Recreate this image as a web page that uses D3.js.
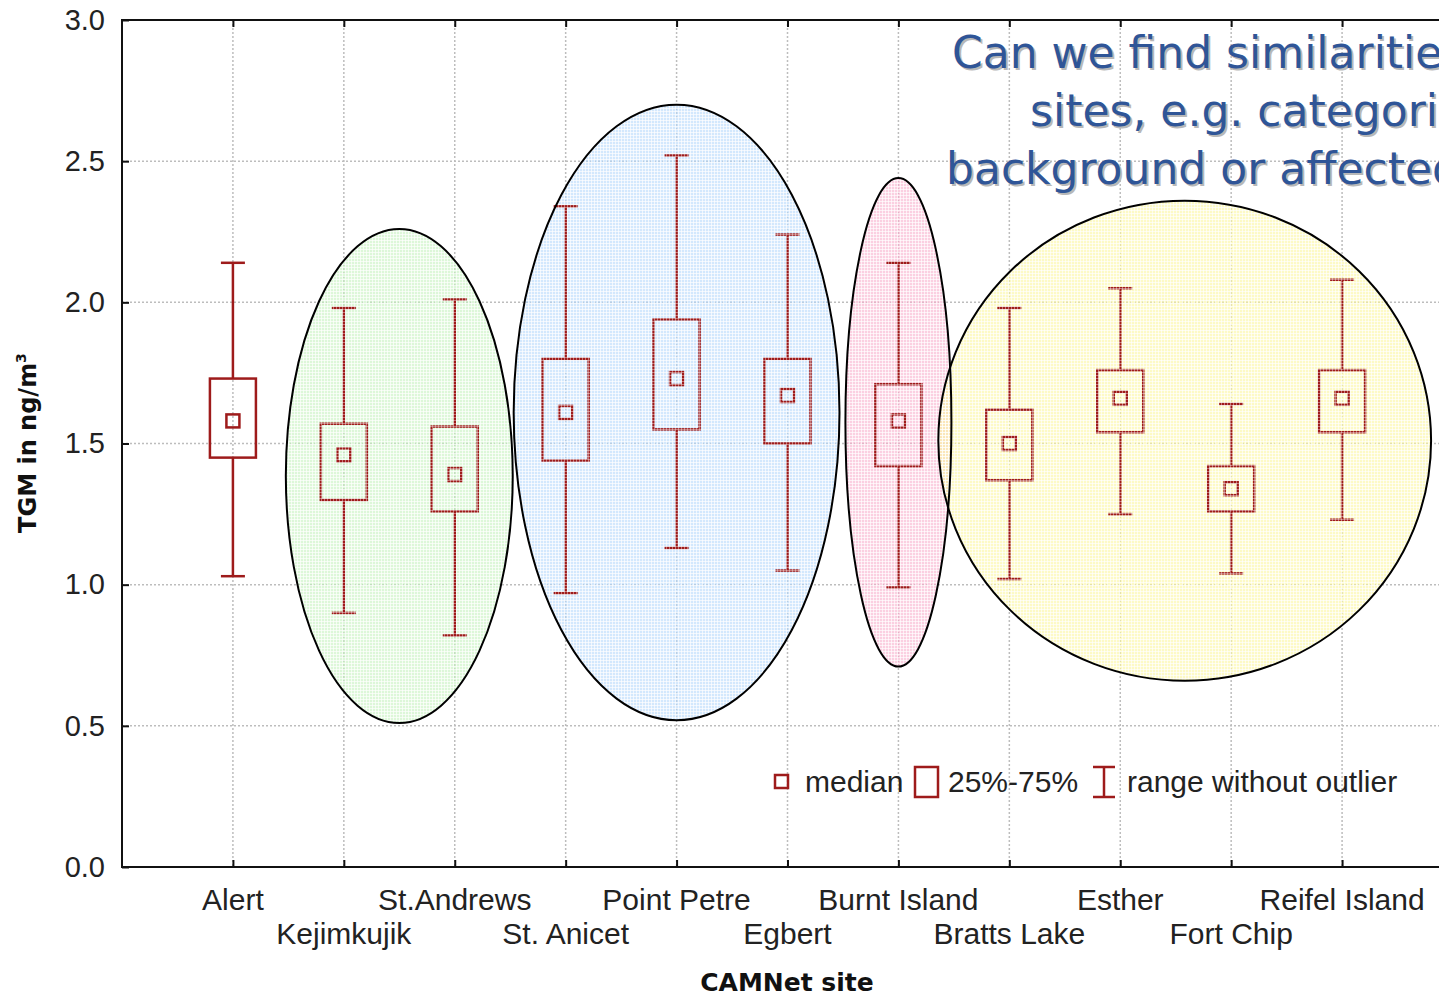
<!DOCTYPE html>
<html>
<head>
<meta charset="utf-8">
<script src="https://cdn.jsdelivr.net/npm/d3@7"></script>
<style>
  html, body { margin: 0; padding: 0; background: #fff; overflow: hidden; }
  svg { display: block; }
</style>
</head>
<body>
<svg id="chart" width="1439" height="998"></svg>
<script>
// CAMNet sites and their TGM box statistics (ng/m³)
const sites = ["Alert", "Kejimkujik", "St.Andrews", "St. Anicet", "Point Petre", "Egbert",
               "Burnt Island", "Bratts Lake", "Esther", "Fort Chip", "Reifel Island"];
const whiskerHigh = [2.14, 1.98, 2.01, 2.34, 2.52, 2.24, 2.14, 1.98, 2.05, 1.64, 2.08];
const q75         = [1.73, 1.57, 1.56, 1.80, 1.94, 1.80, 1.71, 1.62, 1.76, 1.42, 1.76];
const medians     = [1.58, 1.46, 1.39, 1.61, 1.73, 1.67, 1.58, 1.50, 1.66, 1.34, 1.66];
const q25         = [1.45, 1.30, 1.26, 1.44, 1.55, 1.50, 1.42, 1.37, 1.54, 1.26, 1.54];
const whiskerLow  = [1.03, 0.90, 0.82, 0.97, 1.13, 1.05, 0.99, 1.02, 1.25, 1.04, 1.23];
const yTicks = [0, 0.5, 1.0, 1.5, 2.0, 2.5, 3.0];

// Site groupings circled on the chart (value span of each ellipse)
const groupSites = [["Kejimkujik", "St.Andrews"], ["St. Anicet", "Point Petre", "Egbert"],
                    ["Burnt Island"], ["Bratts Lake", "Esther", "Fort Chip", "Reifel Island"]];
const groupTop    = [2.26, 2.70, 2.44, 2.36];
const groupBottom = [0.51, 0.52, 0.71, 0.66];
const groupFill   = ["#c6f2bf", "#b6d8fb", "#f8b0cd", "#fcf7a0"];

const questionLines = ["Can we find similarities", "sites, e.g. categorize", "background or affected"];

const svg = d3.select("#chart");
const plotLeft = 122, plotTop = 20, plotBottom = 867, plotRight = 1453;
const red = "#9e1b1b";
const axisFont = "'Liberation Sans', Arial, sans-serif";

const x = d3.scalePoint().domain(sites).range([plotLeft, plotRight]).padding(1);
const y = d3.scaleLinear().domain([0, 3]).range([plotBottom, plotTop]);

// Ellipse geometry from the grouped sites
const padX = [58, 52, 53, 80];
const shiftX = [0, 0, 0, 9];
const ell = groupSites.map((g, i) => ({
  i,
  cx: (x(g[0]) + x(g[g.length - 1])) / 2 + shiftX[i],
  cy: (y(groupTop[i]) + y(groupBottom[i])) / 2,
  rx: (x(g[g.length - 1]) - x(g[0])) / 2 + padX[i],
  ry: (y(groupBottom[i]) - y(groupTop[i])) / 2
}));

// Hatch patterns for the group ellipses
const defs = svg.append("defs");
groupFill.forEach((c, i) => {
  const p = defs.append("pattern").attr("id", "hatch" + i)
    .attr("width", 3).attr("height", 3).attr("patternUnits", "userSpaceOnUse");
  p.append("rect").attr("width", 3).attr("height", 3).attr("fill", c).attr("fill-opacity", 0.6);
  p.append("rect").attr("width", 3).attr("height", 1).attr("fill", "#fff").attr("fill-opacity", 0.45);
  p.append("rect").attr("width", 1).attr("height", 3).attr("fill", "#fff").attr("fill-opacity", 0.45);
});
const mesh = defs.append("pattern").attr("id", "mesh")
  .attr("width", 3).attr("height", 3).attr("patternUnits", "userSpaceOnUse");
mesh.append("rect").attr("width", 3).attr("height", 1).attr("fill", "#fff").attr("fill-opacity", 0.4);
mesh.append("rect").attr("width", 1).attr("height", 3).attr("fill", "#fff").attr("fill-opacity", 0.4);

// Dotted grid
const grid = svg.append("g").attr("stroke", "#bdbdbd").attr("stroke-width", 1.5)
  .attr("stroke-dasharray", "2,2");
grid.selectAll("line.h").data(yTicks.filter(t => t > 0 && t < 3)).join("line").attr("class", "h")
  .attr("x1", plotLeft).attr("x2", 1439).attr("y1", d => y(d)).attr("y2", d => y(d));
grid.selectAll("line.v").data(sites).join("line").attr("class", "v")
  .attr("x1", d => x(d)).attr("x2", d => x(d)).attr("y1", plotTop).attr("y2", plotBottom);

// Ellipse fills under the boxes
svg.append("g").selectAll("ellipse").data(ell).join("ellipse")
  .attr("cx", d => d.cx).attr("cy", d => d.cy).attr("rx", d => d.rx).attr("ry", d => d.ry)
  .attr("fill", d => `url(#hatch${d.i})`);

// Frame
const frame = svg.append("g").attr("stroke", "#111").attr("stroke-width", 2).attr("fill", "none");
frame.append("line").attr("x1", plotLeft).attr("x2", plotLeft).attr("y1", plotTop - 1).attr("y2", plotBottom + 1);
frame.append("line").attr("x1", plotLeft).attr("x2", 1439).attr("y1", plotTop).attr("y2", plotTop);
frame.append("line").attr("x1", plotLeft).attr("x2", 1439).attr("y1", plotBottom).attr("y2", plotBottom);

// Y axis (ticks pointing inward)
const yAxis = svg.append("g").attr("transform", `translate(${plotLeft},0)`)
  .call(d3.axisRight(y).tickValues(yTicks).tickSize(7).tickFormat(d3.format(".1f")));
yAxis.select(".domain").remove();
yAxis.selectAll("line").attr("stroke", "#111").attr("stroke-width", 2);
yAxis.selectAll("text").attr("x", -17).attr("text-anchor", "end")
  .attr("font-family", axisFont).attr("font-size", 29).attr("fill", "#222");

// X ticks, bottom and top, pointing inward
const xBottom = svg.append("g").attr("transform", `translate(0,${plotBottom})`)
  .call(d3.axisTop(x).tickSize(7).tickFormat(""));
xBottom.select(".domain").remove();
xBottom.selectAll("line").attr("stroke", "#111").attr("stroke-width", 2);
const xTop = svg.append("g").attr("transform", `translate(0,${plotTop})`)
  .call(d3.axisBottom(x).tickSize(7).tickFormat(""));
xTop.select(".domain").remove();
xTop.selectAll("line").attr("stroke", "#111").attr("stroke-width", 2);

// Staggered site labels
svg.append("g").selectAll("text").data(sites).join("text")
  .attr("x", d => x(d)).attr("y", (d, i) => i % 2 === 0 ? 910 : 944)
  .attr("text-anchor", "middle").attr("font-family", axisFont).attr("font-size", 30)
  .attr("fill", "#222").text(d => d);

// Axis titles
svg.append("text").attr("x", 787).attr("y", 991).attr("text-anchor", "middle")
  .attr("font-family", "'DejaVu Sans', sans-serif").attr("font-weight", "bold")
  .attr("font-size", 25).attr("fill", "#111").text("CAMNet site");
const yt = svg.append("text").attr("transform", "translate(36,443) rotate(-90)")
  .attr("text-anchor", "middle").attr("font-family", "'DejaVu Sans', sans-serif")
  .attr("font-weight", "bold").attr("font-size", 24).attr("fill", "#111");
yt.append("tspan").text("TGM in ng/m");
yt.append("tspan").attr("font-size", 14).attr("dy", -10).text("3");

// Box plots
const stats = sites.map((s, i) => ({ s, hi: whiskerHigh[i], q3: q75[i], med: medians[i], q1: q25[i], lo: whiskerLow[i] }));
const boxW = 46, capW = 24, medW = 13;
const boxes = svg.append("g").attr("stroke", red).attr("stroke-width", 2.5).attr("fill", "none");
const b = boxes.selectAll("g").data(stats).join("g");
b.append("line").attr("x1", d => x(d.s)).attr("x2", d => x(d.s)).attr("y1", d => y(d.hi)).attr("y2", d => y(d.q3));
b.append("line").attr("x1", d => x(d.s)).attr("x2", d => x(d.s)).attr("y1", d => y(d.q1)).attr("y2", d => y(d.lo));
b.append("line").attr("x1", d => x(d.s) - capW / 2).attr("x2", d => x(d.s) + capW / 2).attr("y1", d => y(d.hi)).attr("y2", d => y(d.hi));
b.append("line").attr("x1", d => x(d.s) - capW / 2).attr("x2", d => x(d.s) + capW / 2).attr("y1", d => y(d.lo)).attr("y2", d => y(d.lo));
b.append("rect").attr("x", d => x(d.s) - boxW / 2).attr("y", d => y(d.q3)).attr("width", boxW)
  .attr("height", d => y(d.q1) - y(d.q3)).attr("fill", "none");
b.append("rect").attr("x", d => x(d.s) - medW / 2).attr("y", d => y(d.med) - medW / 2)
  .attr("width", medW).attr("height", medW);

// Light mesh over the boxes inside the ellipses, then the outlines
svg.append("g").selectAll("ellipse").data(ell).join("ellipse")
  .attr("cx", d => d.cx).attr("cy", d => d.cy).attr("rx", d => d.rx).attr("ry", d => d.ry)
  .attr("fill", "url(#mesh)");
svg.append("g").selectAll("ellipse").data(ell).join("ellipse")
  .attr("cx", d => d.cx).attr("cy", d => d.cy).attr("rx", d => d.rx).attr("ry", d => d.ry)
  .attr("fill", "none").attr("stroke", "#000").attr("stroke-width", 2);

// Legend
const lg = svg.append("g").attr("font-family", axisFont).attr("font-size", 30).attr("fill", "#222");
lg.append("rect").attr("x", 775).attr("y", 775).attr("width", 13).attr("height", 13)
  .attr("fill", "none").attr("stroke", red).attr("stroke-width", 2.5);
lg.append("text").attr("x", 805).attr("y", 792).text("median");
lg.append("rect").attr("x", 915).attr("y", 767).attr("width", 23).attr("height", 30)
  .attr("fill", "none").attr("stroke", red).attr("stroke-width", 2.5);
lg.append("text").attr("x", 948).attr("y", 792).text("25%-75%");
const ib = lg.append("g").attr("stroke", red).attr("stroke-width", 2.5);
ib.append("line").attr("x1", 1104).attr("x2", 1104).attr("y1", 767).attr("y2", 797);
ib.append("line").attr("x1", 1093).attr("x2", 1115).attr("y1", 767).attr("y2", 767);
ib.append("line").attr("x1", 1093).attr("x2", 1115).attr("y1", 797).attr("y2", 797);
lg.append("text").attr("x", 1127).attr("y", 792).text("range without outlier");

// Question overlay
const qx = [952, 1030, 946];
const q = svg.append("g").attr("font-family", "'DejaVu Sans', Verdana, sans-serif").attr("font-size", 44);
questionLines.forEach((t, i) => {
  q.append("text").attr("x", qx[i] + 2).attr("y", 68 + i * 58 + 2).attr("fill", "#b8b8b8").text(t);
  q.append("text").attr("x", qx[i]).attr("y", 68 + i * 58).attr("fill", "#2f5597").text(t);
});
</script>
</body>
</html>
